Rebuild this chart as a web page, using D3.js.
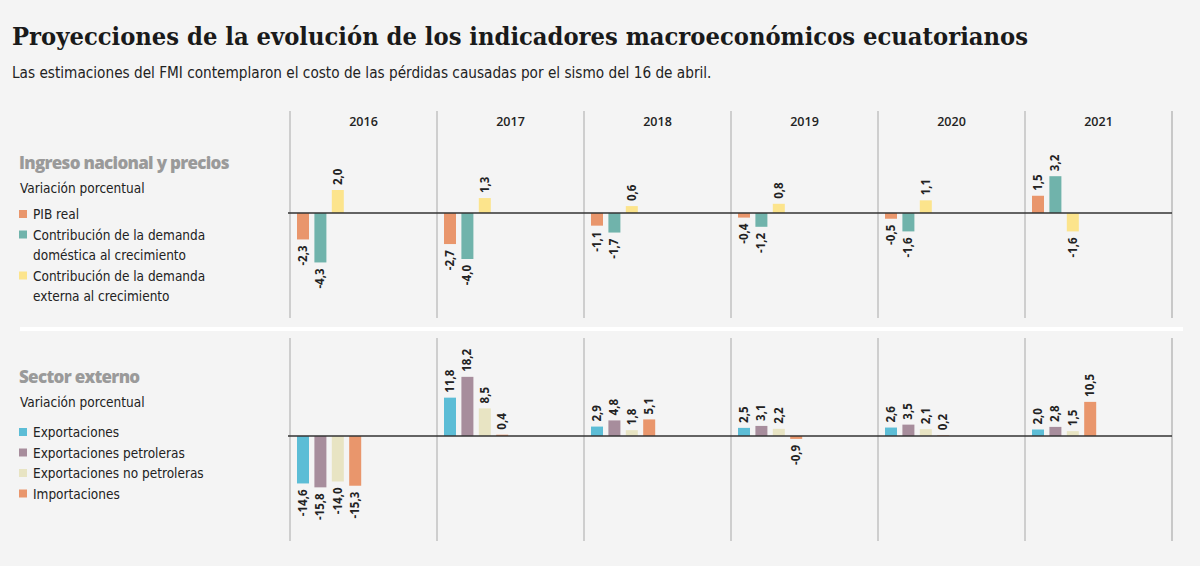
<!DOCTYPE html>
<html>
<head>
<meta charset="utf-8">
<script src="https://cdn.jsdelivr.net/npm/d3@7"></script>
<style>
  body { margin: 0; background: #f4f4f4; }
  svg { display: block; }
  .title { font-family: "DejaVu Serif", serif; font-weight: bold; font-size: 25px; fill: #1a1a1a; }
  .subtitle { font-family: "Liberation Sans Narrow", "DejaVu Sans Condensed", sans-serif; font-size: 15.2px; fill: #222; }
  .section { font-family: "Open Sans", sans-serif; font-weight: 800; font-size: 17px; fill: #9a9a9a; letter-spacing: -0.7px; }
  .legend { font-family: "Liberation Sans Narrow", "DejaVu Sans Condensed", sans-serif; font-size: 13.5px; fill: #222; }
  .year { font-family: "Open Sans", sans-serif; font-weight: 600; font-size: 12.5px; fill: #222; }
  .val { font-family: "Open Sans", sans-serif; font-weight: bold; font-size: 11.5px; fill: #222; }
</style>
</head>
<body>
<script>
(function(){
var years = ["2016", "2017", "2018", "2019", "2020", "2021"];

// Ingreso nacional y precios
var pibReal = [-2.3, -2.7, -1.1, -0.4, -0.5, 1.5];
var demandaDomestica = [-4.3, -4.0, -1.7, -1.2, -1.6, 3.2];
var demandaExterna = [2.0, 1.3, 0.6, 0.8, 1.1, -1.6];

// Sector externo
var exportaciones = [-14.6, 11.8, 2.9, 2.5, 2.6, 2.0];
var expPetroleras = [-15.8, 18.2, 4.8, 3.1, 3.5, 2.8];
var expNoPetroleras = [-14.0, 8.5, 1.8, 2.2, 2.1, 1.5];
var importaciones = [-15.3, 0.4, 5.1, -0.9, 0.2, 10.5];

var topSeries = [
    {name: "PIB real", values: pibReal, color: "#e9966c"},
    {name: ["Contribución de la demanda", "doméstica al crecimiento"], values: demandaDomestica, color: "#70b3ab"},
    {name: ["Contribución de la demanda", "externa al crecimiento"], values: demandaExterna, color: "#fce48c"}
];
var bottomSeries = [
    {name: "Exportaciones", values: exportaciones, color: "#5cbdd6"},
    {name: "Exportaciones petroleras", values: expPetroleras, color: "#a78d9c"},
    {name: "Exportaciones no petroleras", values: expNoPetroleras, color: "#e8e4c3"},
    {name: "Importaciones", values: importaciones, color: "#e9966c"}
];

var width = 1200, height = 566;
var svg = d3.select("body").append("svg")
    .attr("width", width)
    .attr("height", height);

svg.append("rect").attr("width", width).attr("height", height).attr("fill", "#f4f4f4");

svg.append("text").attr("class", "title").attr("x", 12).attr("y", 45)
    .attr("textLength", 1016).attr("lengthAdjust", "spacingAndGlyphs")
    .text("Proyecciones de la evolución de los indicadores macroeconómicos ecuatorianos");
svg.append("text").attr("class", "subtitle").attr("x", 12).attr("y", 78)
    .text("Las estimaciones del FMI contemplaron el costo de las pérdidas causadas por el sismo del 16 de abril.");

//separator between panels
svg.append("rect").attr("x", 20).attr("y", 327).attr("width", 1163).attr("height", 4).attr("fill", "#ffffff");

//year columns
var x = d3.scaleBand().domain(years).range([290, 1172]).padding(0);

svg.selectAll(".year").data(years).enter().append("text")
    .attr("class", "year")
    .attr("x", function(d){ return x(d) + x.bandwidth() / 2; })
    .attr("y", 126)
    .attr("text-anchor", "middle")
    .text(function(d){ return d; });

var fmt = function(v){ return d3.format(".1f")(v).replace("−", "-").replace(".", ","); };

//one panel of grouped bars
function drawPanel(series, y0, y1, y, header, legendY){
    var g = svg.append("g");
    var n = series.length;
    var inner = d3.scaleBand()
        .domain(d3.range(n))
        .range([7, 7 + n * 17.4 - 5.4])
        .paddingInner(5.4 / 17.4);

    //column dividers
    var edges = years.map(function(d){ return x(d); }).concat([x.range()[1]]);
    g.selectAll(".div").data(edges).enter().append("line")
        .attr("x1", function(d){ return d; }).attr("x2", function(d){ return d; })
        .attr("y1", y0).attr("y2", y1)
        .attr("stroke", function(d, i){ return i == edges.length - 1 ? "#c8c8c8" : "#a8a8a8"; })
        .attr("stroke-width", function(d, i){ return i == edges.length - 1 ? 2 : 1; });

    series.forEach(function(s, si){
        var items = years.map(function(yr, i){ return {year: yr, v: s.values[i]}; });
        g.selectAll(".bar" + si).data(items).enter().append("rect")
            .attr("x", function(d){ return x(d.year) + inner(si); })
            .attr("width", inner.bandwidth())
            .attr("y", function(d){ return y(Math.max(0, d.v)); })
            .attr("height", function(d){ return Math.abs(y(d.v) - y(0)); })
            .attr("fill", s.color);

        g.selectAll(".lab" + si).data(items).enter().append("text")
            .attr("class", "val")
            .attr("transform", function(d){
                var cx = x(d.year) + inner(si) + inner.bandwidth() / 2 + 4;
                var cy = d.v >= 0 ? y(d.v) - 5 : y(d.v) + 6;
                return "translate(" + cx + "," + cy + ") rotate(-90)";
            })
            .attr("text-anchor", function(d){ return d.v >= 0 ? "start" : "end"; })
            .text(function(d){ return fmt(d.v); });
    });

    //zero line
    g.append("line")
        .attr("x1", 288).attr("x2", 1172)
        .attr("y1", y(0)).attr("y2", y(0))
        .attr("stroke", "#333").attr("stroke-width", 1.6);

    //header and legend
    g.append("text").attr("class", "section").attr("x", 19).attr("y", header.y).text(header.text);
    g.append("text").attr("class", "legend").attr("x", 20).attr("y", header.y + 24).text("Variación porcentual");

    var ly = legendY;
    series.forEach(function(s){
        var lines = [].concat(s.name);
        g.append("rect").attr("x", 19).attr("y", ly - 9).attr("width", 8).attr("height", 8).attr("fill", s.color);
        lines.forEach(function(t){
            g.append("text").attr("class", "legend").attr("x", 33).attr("y", ly).text(t);
            ly += 20.5;
        });
    });
}

var yTop = d3.scaleLinear().domain([-5, 4]).range([213 + 5 * 11.5, 213 - 4 * 11.5]);
var yBottom = d3.scaleLinear().domain([-20, 20]).range([436 + 20 * 3.25, 436 - 20 * 3.25]);

drawPanel(topSeries, 111, 318, yTop, {text: "Ingreso nacional y precios", y: 169}, 219);
drawPanel(bottomSeries, 338, 541, yBottom, {text: "Sector externo", y: 383}, 437);
})();
</script>
</body>
</html>
